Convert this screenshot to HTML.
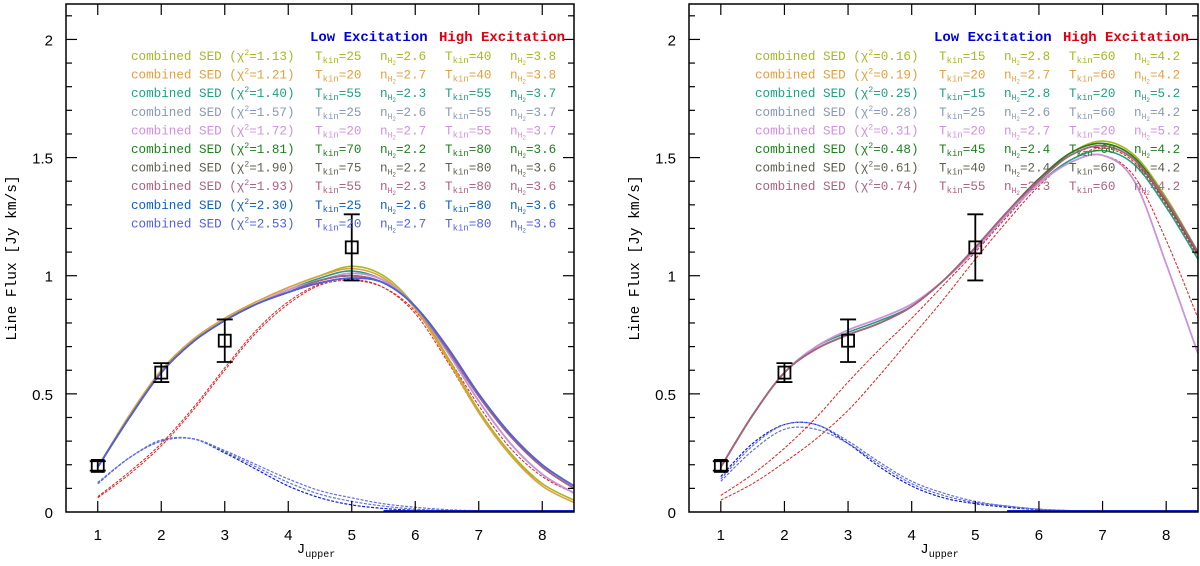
<!DOCTYPE html>
<html><head><meta charset="utf-8">
<style>
html,body{margin:0;padding:0;background:#fff;}
svg{display:block;}
text{font-family:"Liberation Mono",monospace;}
.tl{font-family:"Liberation Sans",sans-serif;font-size:15px;fill:#000;}
</style></head>
<body>
<svg id="chart" width="1200" height="566" viewBox="0 0 1200 566"></svg>
<script>
// ---------- data ----------
const jGrid = [1,1.5,2,2.5,3,3.5,4,4.5,5,5.5,6,6.5,7,7.5,8,8.5];
const obsJ = [1,2,3,5];
const obsFlux = [0.195,0.59,0.725,1.12];
const obsErr = [0.02,0.04,0.09,0.14];
const xTicks = [1,2,3,4,5,6,7,8];
const yTickLabels = ["0","0.5","1","1.5","2"];
const yTickValues = [0,0.5,1,1.5,2];

const leftColors = ["#a8b820","#e0a040","#20a080","#8898b8","#d090e0","#208020","#606050","#b06080","#1060c0","#5060e0"];
const leftChi = ["1.13","1.21","1.40","1.57","1.72","1.81","1.90","1.93","2.30","2.53"];
const leftTlow = ["25","20","55","25","20","70","75","55","25","20"];
const leftNlow = ["2.6","2.7","2.3","2.6","2.7","2.2","2.2","2.3","2.6","2.7"];
const leftThigh = ["40","40","55","55","55","80","80","80","80","80"];
const leftNhigh = ["3.8","3.8","3.7","3.7","3.7","3.6","3.6","3.6","3.6","3.6"];
const leftCombined = [
 [0.19,0.41,0.60,0.73,0.82,0.89,0.95,1.00,1.04,1.00,0.87,0.66,0.43,0.25,0.12,0.05],
 [0.19,0.41,0.60,0.73,0.82,0.89,0.95,1.00,1.03,0.99,0.86,0.65,0.42,0.24,0.11,0.04],
 [0.19,0.40,0.59,0.72,0.81,0.88,0.94,0.99,1.02,0.98,0.87,0.68,0.47,0.29,0.16,0.08],
 [0.19,0.40,0.59,0.72,0.81,0.88,0.94,0.98,1.01,0.98,0.87,0.68,0.47,0.29,0.16,0.08],
 [0.19,0.40,0.59,0.72,0.81,0.88,0.94,0.98,1.01,0.98,0.87,0.68,0.47,0.29,0.16,0.08],
 [0.19,0.40,0.59,0.72,0.81,0.88,0.93,0.98,1.00,0.97,0.87,0.69,0.49,0.32,0.19,0.10],
 [0.19,0.40,0.59,0.72,0.81,0.88,0.93,0.98,1.00,0.97,0.87,0.69,0.49,0.32,0.19,0.10],
 [0.19,0.40,0.59,0.72,0.81,0.88,0.93,0.98,1.00,0.97,0.87,0.69,0.49,0.32,0.19,0.10],
 [0.19,0.40,0.59,0.72,0.81,0.88,0.93,0.97,0.99,0.97,0.87,0.70,0.50,0.33,0.20,0.11],
 [0.19,0.40,0.59,0.72,0.81,0.88,0.93,0.97,0.99,0.97,0.87,0.70,0.50,0.33,0.20,0.11]
];
const leftLow = [
 [0.12,0.23,0.30,0.31,0.25,0.18,0.11,0.06,0.03,0.015,0.007,0.003,0.001,0.001,0,0],
 [0.12,0.23,0.30,0.31,0.26,0.20,0.14,0.09,0.06,0.035,0.02,0.01,0.005,0.002,0.001,0],
 [0.125,0.23,0.305,0.31,0.255,0.19,0.125,0.075,0.045,0.025,0.012,0.006,0.003,0.001,0,0]
];
const leftHigh = [
 [0.06,0.16,0.28,0.43,0.60,0.76,0.88,0.96,0.98,0.95,0.85,0.66,0.45,0.27,0.15,0.08],
 [0.065,0.17,0.29,0.44,0.61,0.77,0.89,0.965,0.985,0.95,0.84,0.64,0.42,0.24,0.12,0.05]
];

const rightColors = ["#a8b820","#e0a040","#20a080","#8898b8","#d090e0","#208020","#606050","#b06080"];
const rightChi = ["0.16","0.19","0.25","0.28","0.31","0.48","0.61","0.74"];
const rightTlow = ["15","20","15","25","20","45","40","55"];
const rightNlow = ["2.8","2.7","2.8","2.6","2.7","2.4","2.4","2.3"];
const rightThigh = ["60","60","20","60","20","60","60","60"];
const rightNhigh = ["4.2","4.2","5.2","4.2","5.2","4.2","4.2","4.2"];
const rightCombined = [
 [0.19,0.41,0.59,0.69,0.75,0.80,0.87,0.98,1.12,1.27,1.41,1.52,1.57,1.51,1.33,1.10],
 [0.19,0.41,0.59,0.69,0.75,0.80,0.87,0.98,1.12,1.27,1.41,1.52,1.56,1.50,1.32,1.09],
 [0.19,0.41,0.59,0.70,0.76,0.81,0.87,0.98,1.11,1.26,1.39,1.49,1.53,1.47,1.29,1.07],
 [0.19,0.41,0.59,0.70,0.77,0.82,0.88,0.98,1.11,1.26,1.39,1.48,1.51,1.40,1.05,0.67],
 [0.19,0.41,0.59,0.70,0.77,0.82,0.88,0.98,1.11,1.26,1.39,1.48,1.51,1.40,1.05,0.67],
 [0.19,0.41,0.59,0.69,0.75,0.80,0.87,0.98,1.12,1.27,1.41,1.52,1.56,1.50,1.32,1.10],
 [0.19,0.41,0.59,0.69,0.75,0.80,0.87,0.98,1.12,1.27,1.41,1.51,1.55,1.49,1.31,1.09],
 [0.19,0.41,0.59,0.69,0.75,0.80,0.87,0.98,1.12,1.27,1.40,1.51,1.55,1.49,1.32,1.10]
];
const rightLow = [
 [0.15,0.29,0.37,0.37,0.29,0.19,0.11,0.06,0.035,0.02,0.01,0.005,0.002,0.001,0,0],
 [0.13,0.26,0.35,0.35,0.29,0.20,0.12,0.07,0.04,0.025,0.012,0.006,0.003,0.001,0,0],
 [0.14,0.28,0.37,0.37,0.30,0.21,0.13,0.08,0.045,0.025,0.012,0.006,0.003,0.001,0,0]
];
const rightHigh = [
 [0.07,0.16,0.27,0.40,0.55,0.69,0.82,0.96,1.10,1.25,1.39,1.48,1.51,1.42,1.15,0.82],
 [0.05,0.12,0.21,0.31,0.43,0.58,0.74,0.90,1.07,1.23,1.38,1.49,1.54,1.48,1.30,1.08]
];

// ---------- drawing ----------
const NS = "http://www.w3.org/2000/svg";
const svg = document.getElementById("chart");
function mk(tag, attrs, parent){
  const e = document.createElementNS(NS, tag);
  for (const k in attrs) e.setAttribute(k, attrs[k]);
  (parent||svg).appendChild(e);
  return e;
}
function smoothPath(pts){
  let d = "M" + pts[0][0].toFixed(2) + "," + pts[0][1].toFixed(2);
  for (let i=0;i<pts.length-1;i++){
    const p0=pts[Math.max(0,i-1)], p1=pts[i], p2=pts[i+1], p3=pts[Math.min(pts.length-1,i+2)];
    const c1x=p1[0]+(p2[0]-p0[0])/6, c1y=p1[1]+(p2[1]-p0[1])/6;
    const c2x=p2[0]-(p3[0]-p1[0])/6, c2y=p2[1]-(p3[1]-p1[1])/6;
    d += " C"+c1x.toFixed(2)+","+c1y.toFixed(2)+" "+c2x.toFixed(2)+","+c2y.toFixed(2)+" "+p2[0].toFixed(2)+","+p2[1].toFixed(2);
  }
  return d;
}

function drawPanel(cfg){
  const L=cfg.left, R=cfg.right, T=4, B=512;
  const xS = v => L + (v-0.5)/(8)*(R-L);
  const yS = v => B - v/2.15*(B-T);
  const g = mk("g",{});
  
  
  const cid = cfg.name+"-clip";
  const defs = mk("defs",{},g);
  const cp = mk("clipPath",{id:cid},defs);
  mk("rect",{x:L,y:T,width:R-L,height:B-T},cp);

  const cg = mk("g",{"clip-path":"url(#"+cid+")"},g);
  
  
  cfg.low.forEach((s,i)=>{
    const p = mk("path",{d:smoothPath(jGrid.map((j,k)=>[xS(j),yS(s[k])])),fill:"none",stroke:i==0?"#1020d0":"#6070e0","stroke-width":1.2,"stroke-dasharray":"3,1.5"},cg);
    
    
  });
  cfg.high.forEach((s,i)=>{
    const p = mk("path",{d:smoothPath(jGrid.map((j,k)=>[xS(j),yS(s[k])])),fill:"none",stroke:"#e02020","stroke-width":1,"stroke-dasharray":"3,1.5"},cg);
    
    
  });
  cfg.combined.forEach((s,i)=>{
    const p = mk("path",{d:smoothPath(jGrid.map((j,k)=>[xS(j),yS(s[k])])),fill:"none",stroke:cfg.colors[i],"stroke-width":1.6},cg);
    
    
  });
  const bl = mk("line",{x1:xS(5.5),x2:R,y1:B-1,y2:B-1,stroke:"#1020d0","stroke-width":2},cg);
  
  

  const fr = mk("rect",{x:L,y:T,width:R-L,height:B-T,fill:"none",stroke:"#000","stroke-width":1.5},g);
  
  
  xTicks.forEach(v=>{
    const x=xS(v);
    mk("line",{x1:x,x2:x,y1:B,y2:B-11,stroke:"#000","stroke-width":1.2},g);
    mk("line",{x1:x,x2:x,y1:T,y2:T+11,stroke:"#000","stroke-width":1.2},g);
    const t = mk("text",{x:x,y:B+28,"text-anchor":"middle",class:"tl"},g);
    t.textContent = v;
    
    
  });
  for (let k=1;k<=21;k++){
    const v=k/10, y=yS(v), major=(k%5==0), len=major?11:6;
    mk("line",{x1:L,x2:L+len,y1:y,y2:y,stroke:"#000","stroke-width":1.2},g);
    mk("line",{x1:R,x2:R-len,y1:y,y2:y,stroke:"#000","stroke-width":1.2},g);
  }
  yTickValues.forEach((v,i)=>{
    const t = mk("text",{x:L-13,y:yS(v)+6,"text-anchor":"end",class:"tl"},g);
    t.textContent = yTickLabels[i];
    
    
  });
  const yt = mk("text",{x:0,y:0,transform:"translate("+(L-50)+",258) rotate(-90)","text-anchor":"middle","font-size":"14.5px",fill:"#000"},g);
  yt.textContent = "Line Flux [Jy km/s]";
  
  
  const xt = mk("text",{x:(L+R)/2-4,y:553,"text-anchor":"middle","font-size":"14px",fill:"#000"},g);
  xt.innerHTML = 'J<tspan font-size="10px" dy="4">upper</tspan>';
  
  

  obsJ.forEach((j,i)=>{
    const og = mk("g",{stroke:"#000","stroke-width":1.8,fill:"none"},g);
    
    
    const x=xS(j), y=yS(obsFlux[i]), y1=yS(obsFlux[i]-obsErr[i]), y2=yS(obsFlux[i]+obsErr[i]);
    mk("line",{x1:x,x2:x,y1:y1,y2:y2},og);
    mk("line",{x1:x-8,x2:x+8,y1:y1,y2:y1},og);
    mk("line",{x1:x-8,x2:x+8,y1:y2,y2:y2},og);
    mk("rect",{x:x-6,y:y-6,width:12,height:12},og);
  });

  const lg = mk("g",{},g);
  
  
  const h1 = mk("text",{x:cfg.lx+179,y:41,"font-size":"14px","font-weight":"bold",fill:"#0000e0"},lg);
  h1.textContent = "Low Excitation";
  
  
  const h2 = mk("text",{x:cfg.lx+308,y:41,"font-size":"14px","font-weight":"bold",fill:"#e00010"},lg);
  h2.textContent = "High Excitation";
  
  
  cfg.chi.forEach((c,i)=>{
    const y = 60 + i*18.6, col=cfg.colors[i];
    const row = mk("g",{fill:col,"font-size":"12.6px"},lg);
    
    
    const t0 = mk("text",{x:cfg.lx,y:y},row);
    t0.innerHTML = 'combined SED (&#967;<tspan font-size="8px" dy="-5">2</tspan><tspan dy="5">=' + c + ')</tspan>';
    const cols=[[cfg.tl[i],"T"],[cfg.nl[i],"n"],[cfg.th[i],"T"],[cfg.nh[i],"n"]];
    cols.forEach((cc,k)=>{
      const t = mk("text",{x:cfg.lx+184+k*65,y:y},row);
      if (cc[1]=="T") t.innerHTML = 'T<tspan font-size="9px" dy="3">kin</tspan><tspan dy="-3">=' + cc[0] + '</tspan>';
      else t.innerHTML = 'n<tspan font-size="8px" dy="3">H</tspan><tspan font-size="6px" dy="2">2</tspan><tspan dy="-5">=' + cc[0] + '</tspan>';
    });
  });
}

drawPanel({name:"left-panel",left:66,right:574,lx:131,colors:leftColors,combined:leftCombined,low:leftLow,high:leftHigh,
  chi:leftChi,tl:leftTlow,nl:leftNlow,th:leftThigh,nh:leftNhigh});
drawPanel({name:"right-panel",left:689,right:1198,lx:755,colors:rightColors,combined:rightCombined,low:rightLow,high:rightHigh,
  chi:rightChi,tl:rightTlow,nl:rightNlow,th:rightThigh,nh:rightNhigh});
</script>
</body></html>
